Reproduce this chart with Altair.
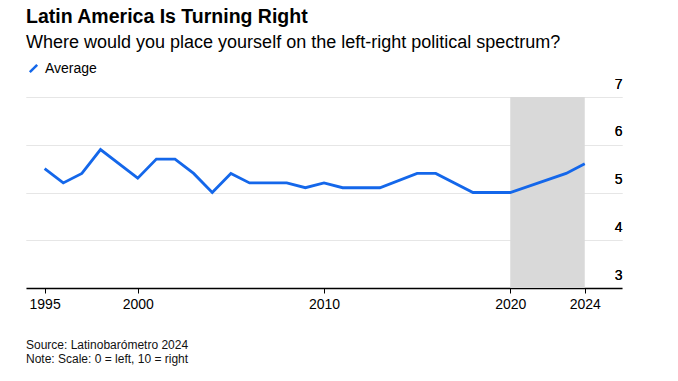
import altair as alt
import pandas as pd

# ---- data ----
years = [1995, 1996, 1997, 1998, 2000, 2001, 2002, 2003, 2004, 2005, 2006, 2007,
         2008, 2009, 2010, 2011, 2013, 2015, 2016, 2018, 2020, 2023, 2024]
average = [5.5, 5.2, 5.4, 5.9, 5.3, 5.7, 5.7, 5.4, 5.0, 5.4, 5.2, 5.2,
           5.2, 5.1, 5.2, 5.1, 5.1, 5.4, 5.4, 5.0, 5.0, 5.4, 5.6]
series_name = ["Average"]
shade_start = [2020]
shade_end = [2024]
x_ticks = [1995, 2000, 2010, 2020, 2024]
y_ticks = [3, 4, 5, 6, 7]
title_text = "Latin America Is Turning Right"
subtitle_text = "Where would you place yourself on the left-right political spectrum?"
footer_lines = ["Source: Latinobarómetro 2024", "Note: Scale: 0 = left, 10 = right"]

FONT = "Liberation Sans"
BLUE = "#1467ea"
W, H = 596, 191

df = pd.DataFrame({"year": years, "value": average, "series": series_name * len(years)})
shade_df = pd.DataFrame({"start": shade_start, "end": shade_end, "lo": [y_ticks[0]], "hi": [y_ticks[-1]]})
foot_df = pd.DataFrame({"text": footer_lines, "row": list(range(len(footer_lines)))})

xscale = alt.Scale(domain=[1994, 2026], nice=False, zero=False)
yscale = alt.Scale(domain=[3, 7], nice=False, zero=False)

xaxis = alt.Axis(values=x_ticks, format="d", grid=False, labelFontSize=14,
                 labelFont=FONT, labelColor="#000", tickSize=5, tickColor="#000",
                 tickWidth=1, domainColor="#000", domainWidth=1.5, labelPadding=4)
yaxis = alt.Axis(orient="right", values=y_ticks, grid=True, gridColor="#e6e6e6",
                 gridWidth=1, domain=False, ticks=False, tickSize=0,
                 labelAlign="right", labelBaseline="alphabetic", labelOffset=-9,
                 labelPadding=0, labelFontSize=14, labelFont=FONT, labelColor="#000")

shade = alt.Chart(shade_df).mark_rect(color="#d9d9d9").encode(
    x=alt.X("start:Q", scale=xscale, axis=xaxis, title=None),
    x2="end:Q",
    y=alt.Y("lo:Q", scale=yscale, axis=yaxis, title=None),
    y2="hi:Q",
)

line = alt.Chart(df).mark_line(strokeWidth=2.8, strokeJoin="miter").encode(
    x=alt.X("year:Q", scale=xscale, title=None, axis=xaxis),
    y=alt.Y("value:Q", scale=yscale, title=None, axis=yaxis),
    color=alt.Color("series:N", scale=alt.Scale(domain=series_name, range=[BLUE]),
                    legend=alt.Legend(title=None, orient="none", legendX=0, legendY=-36,
                                      symbolType="M-0.6,0.6L0.6,-0.6", symbolStrokeWidth=2.5,
                                      symbolSize=150, labelFontSize=14, labelFont=FONT,
                                      labelColor="#000", symbolOffset=0)),
)

footer = alt.Chart(foot_df).mark_text(align="left", baseline="middle", fontSize=12,
                                      font=FONT, color="#111").encode(
    x=alt.value(0),
    y=alt.Y("row:Q", scale=alt.Scale(domain=[0, 1], range=[248, 262]), axis=None),
    text="text:N",
)

chart = alt.layer(shade, line, footer).resolve_scale(y="independent").properties(
    width=W, height=H,
    padding={"left": 18, "top": 89, "right": 40, "bottom": 80},
    autosize=alt.AutoSizeParams(type="none"),
    title=alt.TitleParams(text=title_text, subtitle=subtitle_text, anchor="start",
                          frame="group", font=FONT, fontSize=19.5, fontWeight="bold",
                          color="#000", subtitleFont=FONT, subtitleFontSize=18,
                          subtitleColor="#000", subtitlePadding=7, offset=8),
).configure_view(stroke=None)

chart.save("out.html", embed_options={"renderer": "svg", "actions": False})
